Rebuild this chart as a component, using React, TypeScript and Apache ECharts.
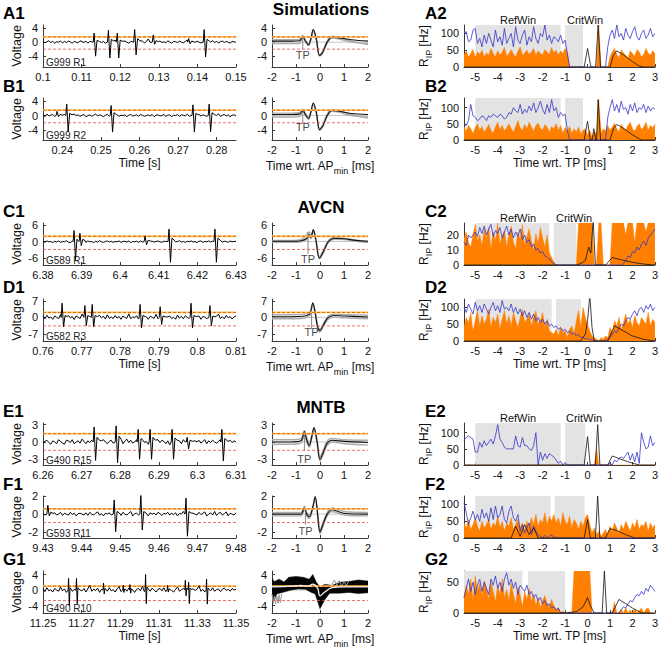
import React, { useEffect, useRef } from "react";
import * as echarts from "echarts";

const FONT = '"Liberation Sans", Arial, Helvetica, sans-serif';

// ---------------- layout ----------------
const rowTops = [25, 98, 223, 299, 423, 496, 571];
const rowH = 42;
const colLeft = [43, 272, 464];
const colWidth = [193, 96, 192];

// ---------------- labels ----------------
const leftIds = ["A1", "B1", "C1", "D1", "E1", "F1", "G1"];
const rightIds = ["A2", "B2", "C2", "D2", "E2", "F2", "G2"];
const recIds = ["G999 R1", "G999 R2", "G589 R1", "G582 R3", "G490 R15", "G593 R11", "G490 R10"];
const sectionTitles = [
  { text: "Simulations", row: 0 },
  { text: "AVCN", row: 2 },
  { text: "MNTB", row: 4 },
];

// ---------------- left: raw traces ----------------
const traceRanges = [
  [0.1, 0.15], [0.235, 0.285], [6.38, 6.43], [0.76, 0.81], [6.26, 6.31], [9.43, 9.48], [11.25, 11.35],
];
const traceTicks = [
  [0.1, 0.11, 0.12, 0.13, 0.14, 0.15],
  [0.24, 0.25, 0.26, 0.27, 0.28],
  [6.38, 6.39, 6.4, 6.41, 6.42, 6.43],
  [0.76, 0.77, 0.78, 0.79, 0.8, 0.81],
  [6.26, 6.27, 6.28, 6.29, 6.3, 6.31],
  [9.43, 9.44, 9.45, 9.46, 9.47, 9.48],
  [11.25, 11.27, 11.29, 11.31, 11.33, 11.35],
];
const vRanges = [[-7.1, 4.9], [-6.8, 4.9], [-8.5, 6.7], [-10, 7.8], [-4, 3.3], [-2.7, 2.05], [-5.9, 4.9]];
const vTicks = [[-4, 0, 4], [-4, 0, 4], [-6, 0, 6], [-7, 0, 7], [-3, 0, 3], [-2, 0, 2], [-4, 0, 4]];
const upperThr = [1.5, 1.5, 1.9, 2.1, 1.45, 0.6, 1.0];
const lowerThr = [-2, -2, -2.9, -3.6, -1.45, -0.95, -2.7];

// spikes: [time s, peak, trough, after-hump]
const spikesA1 = [[0.1135, 2.6, -4.0, 0.5], [0.1172, 3.4, -4.5, 0.8], [0.1195, 2.6, -4.5, 0.6], [0.124, 3.6, -3.6, 1.0], [0.1288, 2.0, -0.6, 0.4], [0.138, 1.0, -0.5, 0.3], [0.142, 3.6, -4.2, 0.8]];
const spikesB1 = [[0.2389, 1.2, -0.3, 0.3], [0.2414, 3.2, -4.5, 0.6], [0.2529, 2.8, -4.6, 0.8], [0.2741, 3.0, -4.6, 0.6], [0.2783, 3.2, -4.5, 0.8]];
const spikesC1 = [[6.3883, 4.0, -6.5, 0.8], [6.3898, 3.0, -1.5, 0.8], [6.4067, 2.0, -1.2, 0.4], [6.4129, 4.5, -7.5, 1.2], [6.4248, 4.5, -7.5, 1.2]];
const spikesD1 = [[0.7652, 6.0, -4.0, 0.8], [0.7711, 5.0, -3.5, 0.8], [0.773, 5.5, -4.0, 0.8], [0.7854, 5.5, -4.5, 0.8], [0.7906, 4.5, -3.0, 0.6], [0.7986, 6.0, -4.5, 0.8], [0.8035, 5.0, -3.5, 0.6]];
const spikesE1 = [[6.2735, 2.6, -3.2, 0.8], [6.2792, 2.8, -3.6, 1.0], [6.2849, 2.2, -3.0, 0.6], [6.288, 2.2, -3.0, 0.8], [6.2937, 2.2, -3.0, 0.7], [6.2976, 0.8, -1.2, 0.3], [6.3066, 2.2, -3.3, 0.6]];
const spikesF1 = [[9.4315, 1.0, -0.2, 0.2], [9.4487, 1.6, -2.0, 0.3], [9.4556, 2.2, -1.8, 0.3], [9.4673, 1.8, -2.5, 0.3]];
const spikesG1 = [[11.2635, 3.0, -4.0, 0.6], [11.2676, 3.0, -3.5, 0.6], [11.2816, 1.8, -1.0, 0.4], [11.2918, 1.2, -0.6, 0.3], [11.2953, 1.4, -0.8, 0.3], [11.3034, 4.0, -3.5, 0.8], [11.3148, 1.2, -0.5, 0.3], [11.324, 2.5, -1.5, 0.5], [11.3257, 2.0, -3.5, 0.5], [11.335, 2.8, -3.6, 0.5]];

// background noise samples (evenly spaced across each window)
const noiseA1 = [0.3, -0.2, 0.1, 0.4, -0.1, 0.2, -0.3, 0.1, 0, 0.3, -0.2, 0.2, -0.1, 0.3, 0.1, -0.3, 0.2, 0, -0.2, 0.4, 0.1, -0.1, 0.3, -0.3, 0.2, 0.1, -0.2, 0.3, 0, 0.5, -0.1, 0.2, -0.3, 0.1, 0.3, -0.2, 0.2, 0.6, -0.4, 0.1, 0.2, -0.1, 0.3, 0, -0.3, 0.2, 0.1, 0.4, -0.2, 0.1, 0, 0.3, -0.2, 0.2, 0.9, -0.1, 0.1, -0.3, 0.2, 0, 0.3, -0.1, 0.1, -0.2, 0.4, 0, -0.3, 0.2, 0.1, -0.1, 0.3, 0, -0.2, 0.2, 0.6, -0.3, 0.1, 0.2, -0.1, 0.3, 0, -0.2, 0.3, 0.1, -0.3, 0.2, 0, 0.4, -0.1, 0.2, -0.2, 0.1, 0.3, -0.1, 0.2, 0, -0.3, 0.2, 0.1, 0];
const noiseB1 = [0.2, -0.3, 0.4, -0.1, 0.1, 0.3, -0.2, 0, 0.5, 0.2, -0.1, 0.3, 0.1, -0.3, 0.2, -0.1, 0.4, 0, 0.2, -0.2, 0.1, 0.3, -0.3, 0, 0.2, -0.2, 0.1, 0.4, -0.1, 0.2, 0, -0.3, 0.1, 0.3, -0.2, 0.2, 0, -0.1, 0.3, -0.2, 0.1, 0, 0.2, -0.3, 0.1, 0.3, -0.1, 0, 0.2, -0.2, 0.3, 0.1, -0.2, 0, 0.2, -0.1, 0.3, -0.3, 0.1, 0.2, -0.1, 0, 0.3, -0.2, 0.1, 0.2, -0.3, 0.1, 0, 0.3, -0.2, 0.2, 0.1, -0.1, 0.4, -0.2, 0, 0.2, -0.3, 0.1, 0.3, -0.1, 0.2, 0, -0.2, 0.3, 0.1, -0.3, 0.2, 0, 0.5, -0.2, 0.1, 0.3, -0.1, 0.2, -0.3, 0.1, 0.2, -0.1];
const noiseC1 = [0.1, -0.3, 0.2, -0.1, 0, -0.4, 0.1, -0.2, 0.2, -0.3, 0, -0.1, 0.3, -0.2, -0.4, 0.1, -0.1, 0.2, -0.3, 0, -0.2, 0.1, -0.3, 0.2, -0.1, 0, -0.4, 0.1, -0.2, 0.3, -0.1, -0.3, 0, 0.2, -0.2, 0.1, -0.3, 0, -0.1, 0.2, -0.3, 0, 0.1, -0.2, 0.2, -0.4, 0, -0.1, 0.1, -0.3, 0.2, -0.2, 0, -0.1, 0.3, -0.3, 0.1, -0.2, 0, 0.2, -0.1, -0.3, 0.1, 0, -0.2, 0.2, -0.4, 0.1, -0.1, 0, 0.3, -0.2, 0, -0.3, 0.1, -0.1, 0.2, -0.2, 0, -0.4, 0.1, 0.2, -0.3, 0, -0.1, 0.2, -0.2, 0.1, -0.3, 0, -0.1, 0.2, -0.2, 0.1, 0, -0.3, 0.2, -0.1, 0, 0.1];
const noiseD1 = [0.5, -0.6, 0.9, -0.3, 0.2, -0.8, 0.6, 0, -0.5, 1.2, -0.4, 0.3, -0.7, 0.8, -0.2, 0.4, -0.9, 0.6, 0.1, -0.5, 1.4, -0.6, 0.2, -0.3, 0.7, -0.8, 0.4, 0, -0.6, 0.9, -0.2, 0.5, -0.7, 1.1, -0.4, 0.2, -0.5, 0.8, -0.3, 0.4, -0.8, 0.6, 0, -0.4, 1.5, -0.6, 0.3, -0.2, 0.7, -0.7, 0.2, 0.9, -0.5, 0.3, -0.8, 0.5, 0, -0.4, 1.3, -0.6, 0.4, -0.3, 0.8, -0.7, 0.2, 0.6, -0.5, 0.1, -0.8, 1.0, -0.3, 0.5, -0.6, 0.7, 0, -0.4, 1.2, -0.7, 0.3, -0.2, 0.6, -0.8, 0.4, 0.1, -0.5, 0.9, -0.3, 0.2, -0.7, 0.5, 1.4, -0.5, 0.3, -0.6, 0.8, -0.2, 0.4, -0.7, 0.2, 0.6];
const noiseE1 = [-0.2, 0.1, 0.3, -0.1, -0.4, 0.2, 0, -0.3, 0.4, 0.1, -0.2, -0.4, 0.3, 0.2, -0.1, 0.4, -0.3, 0, 0.2, -0.2, 0.5, 0.1, -0.3, 0.2, -0.1, 0.3, 0.6, -0.2, 0.1, -0.4, 0.2, 0.4, 0, -0.3, 0.1, 0.3, -0.2, 0.2, -0.1, 0.4, 0.1, -0.3, 0.2, 0.5, -0.1, 0.3, -0.2, 0, 0.4, -0.3, 0.2, 0.6, -0.1, 0.1, -0.4, 0.3, 0, 0.2, -0.2, 0.4, -0.1, 0.3, 0.1, -0.3, 0.2, -0.5, -0.2, 0.1, 0.3, -0.1, 0.2, -0.3, 0.4, 0, -0.2, 0.3, 0.1, -0.4, 0.2, 0, 0.3, -0.2, 0.1, 0.4, -0.3, 0.2, -0.1, 0.3, 0, -0.2, 0.1, 0.4, -0.2, 0.2, -0.3, 0.1, 0.3, -0.1, 0.2, 0];
const noiseF1 = [0.1, -0.1, 0.2, 0, -0.2, 0.1, 0.15, -0.1, 0, 0.2, -0.15, 0.1, 0, -0.1, 0.2, -0.05, 0.1, -0.2, 0.05, 0.1, 0, -0.1, 0.15, -0.15, 0.2, 0, -0.1, 0.1, 0.25, -0.1, 0.05, -0.2, 0.1, 0, 0.15, -0.1, 0.2, -0.05, 0, 0.1, -0.15, 0.2, 0, -0.1, 0.1, 0.3, -0.2, 0.05, 0.1, -0.1, 0, 0.2, -0.1, 0.1, -0.2, 0.15, 0, 0.1, -0.1, 0.2, 0.05, -0.15, 0.1, 0, 0.2, -0.1, 0.1, -0.05, 0.15, -0.2, 0.1, 0, 0.3, -0.1, 0.05, 0.2, -0.15, 0.1, 0, -0.1, 0.2, -0.05, 0.1, 0.25, -0.2, 0, 0.15, -0.1, 0.3, -0.15, 0.1, 0.2, -0.1, 0.05, 0.25, -0.2, 0.1, 0, -0.1, 0.15];
const noiseG1 = [0.3, -0.4, 0.6, -0.2, 0.1, -0.5, 0.4, 0, -0.3, 0.8, -0.2, 0.3, -0.6, 0.2, 0.5, -0.3, 0.1, -0.4, 0.6, 0, -0.2, 0.4, -0.5, 0.3, 1.2, -0.3, 0.2, -0.1, 0.5, -0.6, 0.2, 0, 0.4, -0.3, 0.6, -0.2, 0.1, -0.5, 0.3, 0.9, -0.4, 0.2, 0, -0.3, 0.5, -0.1, 0.3, -0.6, 0.2, 0.4, -0.2, 1.0, -0.4, 0.1, 0.3, -0.3, 0.5, 0, -0.5, 0.2, 0.4, -0.2, 0.6, -0.4, 0.1, 0.3, -0.1, -0.5, 0.2, 0.8, -0.3, 0.1, 0.4, -0.2, 0, 0.5, -0.4, 0.3, -0.1, 0.2, 1.1, -0.3, 0.2, -0.5, 0.4, 0, -0.2, 0.6, -0.3, 0.1, 0.3, -0.4, 0.2, 0.5, -0.1, 0.2, -0.3, 0.4, 0, 0.2];

const traceNoise = [noiseA1, noiseB1, noiseC1, noiseD1, noiseE1, noiseF1, noiseG1];
const traceSpikes = [spikesA1, spikesB1, spikesC1, spikesD1, spikesE1, spikesF1, spikesG1];
// spike template: [time offset s, which value: 0 base / 1 peak / 2 trough / 3 after-hump / 4 decay]
const spikeTemplate = [[-0.0005, 0], [-0.00025, 1], [0.00012, 2], [0.0005, 3], [0.0011, 4]];

// ---------------- middle: spike waveforms (ms, voltage) ----------------
const wfA_black = [[-2, 0.3], [-1.2, 0.3], [-0.85, 0.4], [-0.72, 1.6], [-0.6, 0.2], [-0.48, -0.8], [-0.38, 1], [-0.28, 3.6], [-0.15, 0.8], [-0.02, -3.8], [0.12, -2.8], [0.3, 0], [0.5, 1.4], [0.8, 1.2], [1.3, 0.7], [2, 0.3]];
const wfA_grayHi = [[-2, 0.7], [-1.2, 0.7], [-0.85, 0.8], [-0.72, 1.9], [-0.6, 0.5], [-0.48, -0.5], [-0.38, 1.2], [-0.28, 3.4], [-0.15, 0.9], [-0.02, -3.5], [0.12, -2.5], [0.3, 0.4], [0.5, 1.7], [0.8, 1.4], [1.3, 0.3], [2, -0.7]];
const wfA_grayLo = [[-2, -0.4], [-1.2, -0.4], [-0.85, -0.3], [-0.72, 1.3], [-0.6, 0], [-0.48, -1.0], [-0.38, 0.7], [-0.28, 3.2], [-0.15, 0.5], [-0.02, -4.0], [0.12, -3.0], [0.3, -0.3], [0.5, 1.2], [0.8, 0.9], [1.3, 0], [2, -0.4]];
const wfB_black = [[-2, 0.3], [-1.2, 0.3], [-0.85, 0.4], [-0.72, 1.5], [-0.6, 0.2], [-0.48, -0.8], [-0.38, 1], [-0.28, 3.5], [-0.15, 0.8], [-0.02, -3.9], [0.12, -2.8], [0.3, 0], [0.5, 1.4], [0.8, 1.2], [1.3, 0.6], [2, 0.3]];
const wfB_grayHi = [[-2, 0.7], [-1.2, 0.7], [-0.85, 0.8], [-0.72, 1.8], [-0.6, 0.5], [-0.48, -0.5], [-0.38, 1.2], [-0.28, 3.3], [-0.15, 0.9], [-0.02, -3.5], [0.12, -2.5], [0.3, 0.4], [0.5, 1.7], [0.8, 1.4], [1.3, 0.3], [2, -0.7]];
const wfB_grayLo = [[-2, -0.4], [-1.2, -0.4], [-0.85, -0.3], [-0.72, 1.2], [-0.6, 0], [-0.48, -1.0], [-0.38, 0.7], [-0.28, 3.1], [-0.15, 0.5], [-0.02, -4.0], [0.12, -3.0], [0.3, -0.3], [0.5, 1.2], [0.8, 0.9], [1.3, 0], [2, -0.4]];
const wfC_black = [[-2, 0.1], [-1.2, 0.1], [-0.8, 0.3], [-0.55, 1.2], [-0.45, 2.5], [-0.38, 1.5], [-0.28, 4.3], [-0.18, 1], [-0.02, -6], [0.15, -3.5], [0.35, 0], [0.6, 1.2], [1, 1], [1.5, 0.4], [2, 0.1]];
const wfC_grayHi = [[-2, 0.4], [-1.2, 0.4], [-0.8, 0.7], [-0.55, 2.5], [-0.45, 3.5], [-0.38, 2.2], [-0.28, 4.0], [-0.18, 1.2], [-0.02, -5.5], [0.15, -3], [0.35, 0.4], [0.6, 1.5], [1, 1.2], [1.5, 0.5], [2, 0]];
const wfC_grayLo = [[-2, -0.3], [-1.2, -0.3], [-0.8, -0.1], [-0.55, 0.8], [-0.45, 1.8], [-0.38, 1.0], [-0.28, 3.8], [-0.18, 0.6], [-0.02, -6.3], [0.15, -4], [0.35, -0.4], [0.6, 0.8], [1, 0.7], [1.5, 0.1], [2, -0.4]];
const wfD_black = [[-2, 0.3], [-1.2, 0.3], [-0.7, 0.5], [-0.5, 1], [-0.4, 2], [-0.3, 6.2], [-0.2, 2], [-0.1, -4], [0, -5.5], [0.15, -3], [0.35, 0], [0.6, 0.8], [1, 0.6], [2, 0.2]];
const wfD_grayHi = [[-2, 1.1], [-1.2, 1.1], [-0.7, 1.3], [-0.5, 1.8], [-0.4, 2.6], [-0.3, 5.8], [-0.2, 2.4], [-0.1, -3.5], [0, -5], [0.15, -2.5], [0.35, 0.6], [0.6, 1.4], [1, 1.2], [2, 0.9]];
const wfD_grayLo = [[-2, -0.6], [-1.2, -0.6], [-0.7, -0.4], [-0.5, 0.2], [-0.4, 1.2], [-0.3, 5.6], [-0.2, 1.4], [-0.1, -4.6], [0, -6.2], [0.15, -3.6], [0.35, -0.7], [0.6, 0.1], [1, -0.2], [2, -0.6]];
const wfE_black = [[-2, 0], [-1.2, 0], [-0.8, 0.2], [-0.65, 1.8], [-0.55, 0.3], [-0.45, -0.6], [-0.35, 0.8], [-0.25, 2.5], [-0.12, 0], [0, -3], [0.12, -2], [0.3, -0.2], [0.5, 0.3], [1, 0.1], [2, -0.1]];
const wfE_grayHi = [[-2, 0.4], [-1.2, 0.4], [-0.8, 0.6], [-0.65, 2.0], [-0.55, 0.7], [-0.45, -0.2], [-0.35, 1.1], [-0.25, 2.4], [-0.12, 0.3], [0, -2.6], [0.12, -1.6], [0.3, 0.2], [0.5, 0.6], [1, 0.4], [2, 0.3]];
const wfE_grayLo = [[-2, -0.4], [-1.2, -0.4], [-0.8, -0.2], [-0.65, 1.5], [-0.55, -0.1], [-0.45, -0.9], [-0.35, 0.5], [-0.25, 2.3], [-0.12, -0.3], [0, -3.3], [0.12, -2.3], [0.3, -0.6], [0.5, 0], [1, -0.3], [2, -0.5]];
const wfF_black = [[-2, 0], [-0.8, 0], [-0.65, 0.7], [-0.55, 0], [-0.45, -0.3], [-0.3, 0.8], [-0.2, 2], [-0.1, 0], [0, -2], [0.12, -1.2], [0.3, 0], [0.5, 0.5], [1, 0.1], [2, 0]];
const wfF_grayHi = [[-2, 0.2], [-0.8, 0.2], [-0.65, 0.9], [-0.55, 0.2], [-0.45, -0.1], [-0.3, 0.9], [-0.2, 1.9], [-0.1, 0.2], [0, -1.8], [0.12, -1.0], [0.3, 0.2], [0.5, 0.7], [1, 0.3], [2, 0.2]];
const wfF_grayLo = [[-2, -0.2], [-0.8, -0.2], [-0.65, 0.5], [-0.55, -0.2], [-0.45, -0.5], [-0.3, 0.6], [-0.2, 1.8], [-0.1, -0.2], [0, -2.2], [0.12, -1.4], [0.3, -0.2], [0.5, 0.3], [1, -0.1], [2, -0.2]];
// G: cloud of many overlaid traces -> envelope, plus mean (white) and outliers (gray)
const wfG_upper = [[-2, 3], [-1.9, 2.2], [-1.7, 2.8], [-1.5, 2.1], [-1.3, 3.3], [-1, 3.5], [-0.7, 3.3], [-0.45, 2.8], [-0.3, 4], [-0.15, 2], [0, 0.8], [0.2, 1.5], [0.5, 1.2], [0.8, 2], [1.2, 2.2], [1.6, 2.6], [2, 2.3]];
const wfG_lower = [[-2, -3.8], [-1.8, -1], [-1.5, -0.5], [-1.2, 0], [-0.9, 0.3], [-0.6, 0.2], [-0.4, -0.5], [-0.2, -1], [0, -4.8], [0.2, -2.5], [0.4, -0.8], [0.8, -0.8], [1.2, -0.6], [1.6, -0.9], [2, -0.7]];
const wfG_mean = [[-2, 0.8], [-1.2, 1], [-0.8, 1.2], [-0.5, 1], [-0.3, 1.5], [-0.1, 0.5], [0, -1.5], [0.2, -0.5], [0.5, 0.6], [1, 0.8], [2, 0.8]];
const wfG_outlier = [[-2, -1], [-1.95, -3.5], [-1.9, -1.5], [-1.85, -3.6], [-1.8, -1.5], [-1.75, -3.4], [-1.7, -1.2], [-1.65, -3.2], [-1.6, -1]];
const wfG_outlierHi = [[0.5, 1.5], [0.6, 2.6], [0.7, 1.2], [0.8, 2.4], [0.9, 1], [1.0, 2.2], [1.1, 1.1], [1.2, 2.4]];

const wfBlack = [wfA_black, wfB_black, wfC_black, wfD_black, wfE_black, wfF_black];
const wfGrayHi = [wfA_grayHi, wfB_grayHi, wfC_grayHi, wfD_grayHi, wfE_grayHi, wfF_grayHi];
const wfGrayLo = [wfA_grayLo, wfB_grayLo, wfC_grayLo, wfD_grayLo, wfE_grayLo, wfF_grayLo];
const tpTimes = [-0.72, -0.72, -0.5, -0.35, -0.65, -0.6];
const tpLineY = [[1.6, -2], [1.5, -2], [3.5, -4.5], [2, -5], [1.8, -1.5], [0.7, -1.2]];
const tpLabelY = [-3.6, -3.3, -6.2, -6.2, -2.9, -1.9];

// ---------------- right: R_IP histograms (x = -5.5 ... 3.0, step 0.1 ms) ----------------
const ripStart = -5.5;
const ripStep = 0.1;
const ripTicks = [-5, -4, -3, -2, -1, 0, 1, 2, 3];
const ripMax = [125, 130, 28, 125, 130, 125, 68];
const ripYTicks = [[0, 50, 100], [0, 50, 100], [0, 10, 20], [0, 50, 100], [0, 50, 100], [0, 50, 100], [0, 50]];
const refWins = [[-5, -1.2], [-5, -1.2], [-5, -1.7], [-5, -1.6], [-5, -1.2], [-5, -1.65], [-5.5, -2.9]];
const critWins = [[-1, -0.2], [-1, -0.2], [-1.5, -0.5], [-1.4, -0.3], [-1, -0.1], [-1.47, -0.13], [-2.65, -1.0]];

const orangeA2 = [35, 48, 30, 40, 52, 28, 45, 38, 50, 30, 42, 35, 55, 40, 30, 48, 36, 44, 58, 32, 40, 52, 38, 30, 46, 60, 35, 42, 50, 38, 45, 55, 34, 48, 40, 36, 52, 44, 38, 58, 42, 50, 36, 48, 40, 55, 45, 0, 0, 0, 0, 0, 0, 0, 0, 0, 0, 0, 0, 0, 125, 0, 0, 0, 0, 30, 45, 55, 38, 28, 50, 42, 35, 25, 48, 40, 32, 52, 45, 30, 38, 55, 42, 35, 48, 40];
const blueA2 = [100, 105, 75, 80, 110, 115, 70, 85, 60, 95, 70, 100, 80, 60, 110, 75, 90, 65, 115, 70, 85, 100, 60, 120, 80, 70, 95, 110, 65, 90, 75, 120, 85, 70, 100, 90, 125, 80, 95, 70, 90, 85, 75, 95, 70, 80, 40, 0, 0, 0, 0, 0, 0, 0, 0, 0, 0, 0, 0, 0, 0, 0, 0, 0, 60, 95, 110, 85, 125, 90, 100, 80, 115, 95, 85, 105, 120, 90, 80, 100, 110, 85, 95, 115, 90, 100];
const blackA2 = [[-5.5, 0], [-0.15, 0], [0, 55], [0.15, 0], [0.36, 0], [0.47, 125], [0.58, 0], [1.0, 0], [1.15, 35], [1.3, 48], [1.6, 36], [2.0, 16], [2.3, 3], [2.5, 0], [3, 0]];

const orangeB2 = [40, 28, 45, 35, 20, 38, 50, 30, 42, 25, 35, 48, 30, 22, 40, 55, 32, 45, 28, 38, 50, 35, 25, 42, 60, 38, 30, 48, 35, 55, 40, 28, 45, 52, 36, 30, 48, 40, 25, 42, 35, 50, 30, 45, 22, 38, 28, 42, 20, 35, 25, 40, 18, 30, 35, 15, 30, 10, 25, 20, 125, 20, 35, 28, 45, 30, 40, 52, 35, 25, 48, 38, 30, 45, 55, 35, 28, 42, 50, 32, 40, 55, 30, 45, 38, 50];
const blueB2 = [50, 45, 60, 110, 75, 70, 60, 65, 75, 70, 60, 75, 70, 80, 75, 70, 80, 75, 65, 70, 85, 80, 100, 90, 85, 110, 80, 95, 85, 105, 90, 115, 85, 100, 120, 95, 80, 110, 85, 125, 90, 100, 70, 85, 75, 80, 30, 0, 0, 0, 0, 0, 0, 0, 0, 0, 0, 0, 0, 0, 0, 0, 0, 0, 70, 100, 125, 90, 110, 85, 120, 95, 100, 80, 110, 90, 115, 85, 100, 95, 110, 85, 105, 90, 100, 95];
const blackB2 = [[-5.5, 0], [-0.15, 0], [0, 58], [0.12, 0], [0.2, 0], [0.28, 35], [0.36, 0], [0.4, 0], [0.47, 125], [0.58, 0], [1.0, 0], [1.15, 35], [1.3, 48], [1.6, 36], [2.0, 16], [2.4, 0], [3, 0]];

const orangeC2 = [18, 22, 15, 12, 20, 27, 16, 20, 13, 24, 18, 25, 10, 22, 16, 28, 14, 19, 23, 12, 20, 26, 15, 11, 22, 17, 27, 13, 19, 24, 16, 10, 21, 14, 25, 18, 12, 20, 8, 5, 2, 0, 0, 0, 0, 0, 0, 0, 0, 0, 0, 28, 28, 28, 28, 28, 28, 28, 0, 0, 28, 28, 0, 0, 0, 0, 28, 28, 28, 28, 28, 28, 20, 28, 28, 28, 15, 28, 28, 28, 28, 22, 28, 28, 28, 28];
const blueC2 = [15, 13, 20, 18, 20, 22, 19, 25, 21, 26, 20, 24, 27, 19, 23, 21, 25, 18, 22, 26, 20, 24, 18, 22, 19, 24, 17, 20, 15, 17, 12, 14, 10, 11, 8, 9, 6, 5, 4, 2, 1, 0, 0, 0, 0, 0, 0, 0, 0, 0, 0, 0, 0, 0, 0, 0, 0, 0, 0, 0, 0, 0, 0, 0, 0, 0, 0, 0, 0, 0, 0, 1, 3, 6, 5, 9, 8, 12, 10, 14, 16, 13, 18, 20, 22, 24];
const blackC2 = [[-5.5, 0], [-0.5, 0], [-0.3, 1], [-0.1, 3], [0.05, 12], [0.15, 8], [0.25, 30], [0.35, 0], [0.8, 0], [1.1, 5], [1.5, 3.5], [2, 1.8], [2.5, 0.6], [3, 0]];

const orangeD2 = [40, 70, 55, 85, 30, 60, 90, 45, 75, 50, 65, 95, 40, 70, 55, 80, 35, 65, 90, 50, 75, 45, 85, 60, 40, 70, 95, 55, 65, 80, 45, 70, 90, 50, 60, 85, 40, 65, 30, 25, 20, 35, 15, 40, 25, 30, 10, 35, 45, 20, 60, 90, 40, 100, 70, 50, 30, 15, 10, 5, 0, 10, 5, 15, 10, 40, 25, 60, 45, 70, 35, 55, 80, 50, 65, 40, 75, 55, 45, 70, 60, 50, 85, 45, 65, 55];
const blueD2 = [100, 85, 110, 95, 80, 115, 90, 105, 85, 110, 95, 80, 100, 115, 90, 105, 85, 120, 95, 100, 90, 110, 85, 100, 80, 95, 75, 90, 70, 85, 65, 80, 60, 70, 55, 65, 50, 60, 45, 50, 40, 45, 35, 40, 30, 35, 25, 30, 20, 25, 15, 20, 10, 12, 5, 8, 3, 5, 0, 0, 0, 0, 0, 0, 5, 10, 20, 30, 25, 40, 50, 45, 60, 70, 65, 80, 90, 75, 95, 100, 85, 105, 95, 110, 90, 100];
const blackD2 = [[-5.5, 0], [-0.3, 0], [-0.1, 20], [0, 60], [0.1, 135], [0.2, 40], [0.3, 0], [0.9, 0], [1.2, 45], [1.6, 30], [2.0, 15], [2.5, 5], [3, 0]];

const orangeE2 = [0, 0, 0, 0, 0, 0, 0, 0, 0, 0, 0, 0, 0, 0, 0, 0, 0, 0, 0, 0, 0, 0, 0, 0, 0, 0, 0, 0, 0, 0, 0, 0, 0, 0, 0, 0, 0, 0, 0, 0, 0, 0, 0, 0, 0, 0, 0, 0, 0, 0, 0, 0, 0, 0, 0, 0, 0, 0, 0, 50, 0, 0, 0, 0, 0, 0, 0, 0, 0, 0, 0, 0, 0, 0, 0, 0, 0, 0, 0, 0, 0, 0, 0, 0, 0, 0];
const blueE2 = [77, 85, 90, 85, 80, 40, 40, 70, 55, 75, 60, 70, 80, 65, 90, 125, 80, 70, 55, 50, 50, 50, 50, 90, 60, 55, 85, 60, 60, 50, 45, 60, 100, 0, 40, 15, 35, 20, 35, 30, 25, 15, 5, 12, 0, 8, 0, 0, 0, 0, 0, 0, 0, 0, 0, 0, 0, 0, 0, 0, 0, 0, 0, 0, 0, 5, 0, 15, 10, 20, 25, 20, 30, 40, 15, 35, 10, 40, 5, 100, 70, 50, 55, 90, 60, 70];
const blackE2 = [[-5.5, 0], [-0.15, 0], [0, 88], [0.12, 0], [0.35, 0], [0.45, 125], [0.55, 0], [0.9, 0], [1.1, 28], [1.4, 20], [1.8, 10], [2.3, 0], [3, 0]];

const orangeF2 = [45, 30, 55, 25, 40, 60, 35, 20, 50, 30, 40, 55, 25, 45, 35, 65, 30, 50, 20, 45, 35, 60, 25, 40, 55, 30, 45, 20, 50, 35, 60, 40, 70, 35, 55, 45, 75, 40, 65, 50, 70, 45, 60, 35, 75, 50, 40, 65, 30, 55, 45, 25, 50, 35, 60, 70, 40, 15, 30, 10, 20, 5, 15, 25, 10, 35, 20, 45, 30, 15, 40, 25, 50, 35, 20, 45, 30, 55, 25, 40, 35, 50, 20, 45, 30, 40];
const blueF2 = [105, 75, 40, 60, 80, 55, 70, 50, 85, 60, 75, 50, 90, 55, 95, 60, 70, 95, 55, 45, 80, 95, 60, 50, 70, 20, 40, 15, 30, 45, 10, 35, 20, 10, 5, 0, 8, 0, 5, 10, 0, 3, 0, 0, 0, 0, 0, 0, 0, 0, 0, 0, 0, 0, 0, 0, 0, 0, 0, 0, 0, 0, 0, 0, 0, 0, 0, 0, 0, 0, 0, 0, 0, 0, 0, 0, 0, 0, 0, 0, 0, 0, 0, 0, 0, 0];
const blackF2 = [[-5.5, 0], [-3.4, 0], [-3.2, 35], [-3.0, 5], [-2.8, 40], [-2.6, 10], [-2.4, 30], [-2.2, 0], [-0.15, 0], [0, 55], [0.12, 0], [0.35, 0], [0.45, 125], [0.55, 0], [0.8, 0], [1.0, 28], [1.3, 22], [1.7, 10], [2.1, 0], [3, 0]];

const orangeG2 = [25, 45, 30, 55, 20, 60, 35, 48, 28, 52, 40, 22, 50, 35, 18, 45, 30, 55, 25, 38, 20, 48, 30, 15, 42, 28, 10, 35, 22, 40, 18, 30, 12, 25, 8, 20, 28, 15, 10, 22, 12, 5, 8, 0, 3, 0, 0, 2, 0, 68, 68, 68, 68, 68, 68, 68, 68, 0, 0, 0, 0, 0, 0, 0, 0, 0, 0, 18, 0, 0, 6, 0, 8, 0, 5, 0, 7, 0, 4, 8, 0, 6, 8, 0, 0, 0];
const blueG2 = [25, 40, 55, 35, 50, 30, 45, 55, 35, 50, 40, 30, 55, 45, 60, 40, 50, 35, 55, 65, 45, 55, 40, 50, 30, 45, 40, 35, 45, 30, 35, 25, 30, 20, 25, 15, 20, 12, 15, 8, 10, 5, 8, 0, 0, 0, 0, 0, 0, 0, 0, 0, 0, 0, 0, 0, 0, 0, 0, 0, 0, 0, 0, 0, 0, 0, 0, 0, 0, 0, 5, 10, 8, 15, 20, 18, 25, 30, 28, 35, 30, 40, 35, 45, 40, 35];
const blackG2 = [[-5.5, 0], [-1, 0], [-0.5, 2], [-0.2, 10], [0, 25], [0.15, 10], [0.3, 0], [0.65, 0], [0.75, 68], [0.85, 0], [1.1, 0], [1.4, 22], [1.7, 15], [2.0, 8], [2.4, 0], [3, 0]];

const ripOrange = [orangeA2, orangeB2, orangeC2, orangeD2, orangeE2, orangeF2, orangeG2];
const ripBlue = [blueA2, blueB2, blueC2, blueD2, blueE2, blueF2, blueG2];
const ripBlack = [blackA2, blackB2, blackC2, blackD2, blackE2, blackF2, blackG2];

// ---------------- colours ----------------
const C_ORANGE = "#ff8000";
const C_THR_LIGHT = "#ffc266";
const C_THR_DARK = "#e06a00";
const C_RED = "#e04a4a";
const C_BLUE = "#3535cc";
const C_GRAYWIN = "#e3e3e3";
const C_AXIS = "#3a3a3a";

function traceData(range: number[], noise: number[], spikes: number[][]) {
  const [x0, x1] = range;
  const step = (x1 - x0) / (noise.length - 1);
  const pts: number[][] = [];
  noise.forEach((v, i) => {
    const t = x0 + i * step;
    if (spikes.some((s) => t > s[0] - 0.0006 && t < s[0] + 0.0013)) return;
    pts.push([t, v]);
  });
  spikes.forEach(([t, up, down, after]) => {
    const vals = [0, up, down, after, after * 0.4];
    spikeTemplate.forEach(([dt, k]) => pts.push([t + dt, vals[k]]));
  });
  return pts.sort((a, b) => a[0] - b[0]);
}

const fmtNum = (v: number) => String(Math.round(v * 1000) / 1000);

function buildOption() {
  const grid: any[] = [];
  const xAxis: any[] = [];
  const yAxis: any[] = [];
  const series: any[] = [];
  const graphic: any[] = [];
  const labelStyle = { fontSize: 11, color: "#111", fontFamily: FONT };
  const nameStyle = { fontSize: 12, color: "#111", fontFamily: FONT };
  const subRich = {
    r: { fontSize: 12, color: "#111", fontFamily: FONT, lineHeight: 18 },
    s: { fontSize: 9, color: "#111", fontFamily: FONT, verticalAlign: "bottom" },
  };

  const mkX = (gi: number, min: number, max: number, ticks: number[] | null, name?: string, interval?: number) => ({
    type: "value",
    gridIndex: gi,
    min,
    max,
    interval,
    axisLine: { show: true, onZero: false, lineStyle: { color: C_AXIS, width: 1 } },
    axisTick: { show: true, inside: true, length: 3, lineStyle: { color: C_AXIS }, ...(ticks ? { customValues: ticks } : {}) },
    axisLabel: { ...labelStyle, margin: 4, formatter: fmtNum, ...(ticks ? { customValues: ticks } : {}) },
    splitLine: { show: false },
    name: name || "",
    nameLocation: "middle",
    nameGap: 17,
    nameTextStyle: { ...nameStyle, rich: subRich },
  });
  const mkY = (gi: number, min: number, max: number, ticks: number[], name?: string, nameGap?: number) => ({
    type: "value",
    gridIndex: gi,
    min,
    max,
    axisLine: { show: true, onZero: false, lineStyle: { color: C_AXIS, width: 1 } },
    axisTick: { show: true, inside: true, length: 3, lineStyle: { color: C_AXIS }, customValues: ticks },
    axisLabel: { ...labelStyle, margin: 5, formatter: fmtNum, customValues: ticks },
    splitLine: { show: false },
    name: name || "",
    nameLocation: "middle",
    nameGap: nameGap || 20,
    nameTextStyle: { ...nameStyle, fontSize: 12.5, rich: subRich },
  });
  const line = (gi: number, data: any[], color: string, width: number, extra: any = {}) => ({
    type: "line",
    xAxisIndex: gi,
    yAxisIndex: gi,
    data,
    symbol: "none",
    showSymbol: false,
    silent: true,
    lineStyle: { color, width },
    z: 2,
    ...extra,
  });
  const thresholds = (gi: number, x0: number, x1: number, up: number, lo: number) => {
    series.push(line(gi, [[x0, up], [x1, up]], C_THR_LIGHT, 1.8, { z: 5 }));
    series.push(line(gi, [[x0, up], [x1, up]], C_THR_DARK, 1, { z: 6, lineStyle: { color: C_THR_DARK, width: 1, type: [3, 2] } }));
    series.push(line(gi, [[x0, lo], [x1, lo]], C_RED, 0.8, { z: 5, lineStyle: { color: C_RED, width: 0.8, type: [3, 2] } }));
  };

  const ripXs = ripOrange[0].map((_, i) => Math.round((ripStart + i * ripStep) * 100) / 100);

  rowTops.forEach((top, r) => {
    const showName = r === 1 || r === 3 || r === 6;
    // ----- left trace -----
    const g0 = r * 3;
    grid.push({ left: colLeft[0], top, width: colWidth[0], height: rowH });
    xAxis.push(mkX(g0, traceRanges[r][0], traceRanges[r][1], traceTicks[r], showName ? "Time [s]" : ""));
    yAxis.push(mkY(g0, vRanges[r][0], vRanges[r][1], vTicks[r], "Voltage", 20));
    thresholds(g0, traceRanges[r][0], traceRanges[r][1], upperThr[r], lowerThr[r]);
    series.push(line(g0, traceData(traceRanges[r], traceNoise[r], traceSpikes[r]), "#000", 1, { z: 7 }));

    // ----- middle waveform -----
    const g1 = r * 3 + 1;
    grid.push({ left: colLeft[1], top, width: colWidth[1], height: rowH });
    xAxis.push(mkX(g1, -2, 2, null, showName ? "{r|Time wrt. AP}{s|min}{r| [ms]}" : "", 1));
    yAxis.push(mkY(g1, vRanges[r][0], vRanges[r][1], vTicks[r]));
    series.push(line(g1, [[-2, 0], [2, 0]], "#c4c4c4", 1, { z: 1 }));
    if (r < 6) {
      series.push(line(g1, wfGrayHi[r], "#ababab", 1.4, { smooth: 0.35, z: 3 }));
      series.push(line(g1, wfGrayLo[r], "#ababab", 1.4, { smooth: 0.35, z: 3 }));
      series.push(line(g1, wfBlack[r], "#111", 1.1, { smooth: 0.35, z: 4 }));
      series.push(line(g1, [[tpTimes[r], tpLineY[r][0]], [tpTimes[r], tpLineY[r][1]]], "#6a6a6a", 0.8, { z: 4 }));
      series.push({
        type: "scatter",
        xAxisIndex: g1,
        yAxisIndex: g1,
        data: [[tpTimes[r], tpLabelY[r]]],
        symbolSize: 0,
        silent: true,
        z: 8,
        label: { show: true, position: "inside", formatter: "TP", fontSize: 11, color: "#111", fontFamily: FONT },
      });
      thresholds(g1, -2, 2, upperThr[r], lowerThr[r]);
    } else {
      const band = wfG_upper.concat(wfG_lower.slice().reverse());
      series.push({
        type: "custom",
        xAxisIndex: g1,
        yAxisIndex: g1,
        coordinateSystem: "cartesian2d",
        data: [[0, 0]],
        silent: true,
        clip: true,
        z: 3,
        renderItem: (_p: any, api: any) => ({
          type: "polygon",
          shape: { points: band.map((p) => api.coord(p)) },
          style: { fill: "#050505", stroke: "#050505", lineWidth: 0.5 },
        }),
      });
      series.push(line(g1, wfG_outlier, "#9a9a9a", 1, { z: 4 }));
      series.push(line(g1, wfG_outlierHi, "#9a9a9a", 1, { z: 4 }));
      thresholds(g1, -2, 2, upperThr[r], lowerThr[r]);
      series.push(line(g1, wfG_mean, "#f2f2f2", 1.3, { smooth: 0.4, z: 9 }));
    }

    // ----- right R_IP -----
    const g2 = r * 3 + 2;
    grid.push({ left: colLeft[2], top, width: colWidth[2], height: rowH });
    xAxis.push(mkX(g2, -5.5, 3, ripTicks, showName ? "Time wrt. TP [ms]" : ""));
    yAxis.push(mkY(g2, 0, ripMax[r], ripYTicks[r], "{r|R}{s|IP}{r| [Hz]}", 31));
    series.push({
      type: "line",
      xAxisIndex: g2,
      yAxisIndex: g2,
      data: [[-5.5, 0]],
      symbol: "none",
      lineStyle: { opacity: 0 },
      silent: true,
      z: 1,
      markArea: {
        silent: true,
        itemStyle: { color: C_GRAYWIN },
        data: [
          [{ xAxis: refWins[r][0] }, { xAxis: refWins[r][1] }],
          [{ xAxis: critWins[r][0] }, { xAxis: critWins[r][1] }],
        ],
      },
    });
    series.push(
      line(g2, ripXs.map((x, i) => [x, ripOrange[r][i]]), C_ORANGE, 0.5, {
        areaStyle: { color: C_ORANGE, opacity: 1 },
        z: 2,
      })
    );
    series.push(line(g2, ripXs.map((x, i) => [x, ripBlue[r][i]]), C_BLUE, 0.8, { z: 3 }));
    series.push(line(g2, ripBlack[r], "#111", 0.8, { z: 4 }));

    // ----- texts -----
    graphic.push({ type: "text", x: 3, y: top - 12, style: { text: leftIds[r], fontSize: 17, fontWeight: "bold", fontFamily: FONT, fill: "#000", align: "left", verticalAlign: "middle" } });
    graphic.push({ type: "text", x: 425, y: top - 12, style: { text: rightIds[r], fontSize: 17, fontWeight: "bold", fontFamily: FONT, fill: "#000", align: "left", verticalAlign: "middle" } });
    graphic.push({ type: "text", x: 46, y: top + rowH - 5, style: { text: recIds[r], fontSize: 10, fontFamily: FONT, fill: "#222", align: "left", verticalAlign: "middle" } });
  });

  sectionTitles.forEach((s) => {
    graphic.push({ type: "text", x: 321, y: rowTops[s.row] - 16, style: { text: s.text, fontSize: 17, fontWeight: "bold", fontFamily: FONT, fill: "#000", align: "center", verticalAlign: "middle" } });
  });
  const critX = [585, 574, 584];
  [0, 2, 4].forEach((r, k) => {
    graphic.push({ type: "text", x: 518, y: rowTops[r] - 5, style: { text: "RefWin", fontSize: 11, fontFamily: FONT, fill: "#111", align: "center", verticalAlign: "middle" } });
    graphic.push({ type: "text", x: critX[k], y: rowTops[r] - 5, style: { text: "CritWin", fontSize: 11, fontFamily: FONT, fill: "#111", align: "center", verticalAlign: "middle" } });
  });

  return { animation: false, backgroundColor: "#fff", grid, xAxis, yAxis, series, graphic };
}

export default function App() {
  const ref = useRef<HTMLDivElement>(null);
  useEffect(() => {
    const chart = echarts.init(ref.current!, null, { renderer: "svg", width: 661, height: 653 });
    chart.setOption(buildOption() as any);
    return () => chart.dispose();
  }, []);
  return <div ref={ref} style={{ position: "absolute", left: 0, top: 0, width: 661, height: 653, background: "#fff" }} />;
}
